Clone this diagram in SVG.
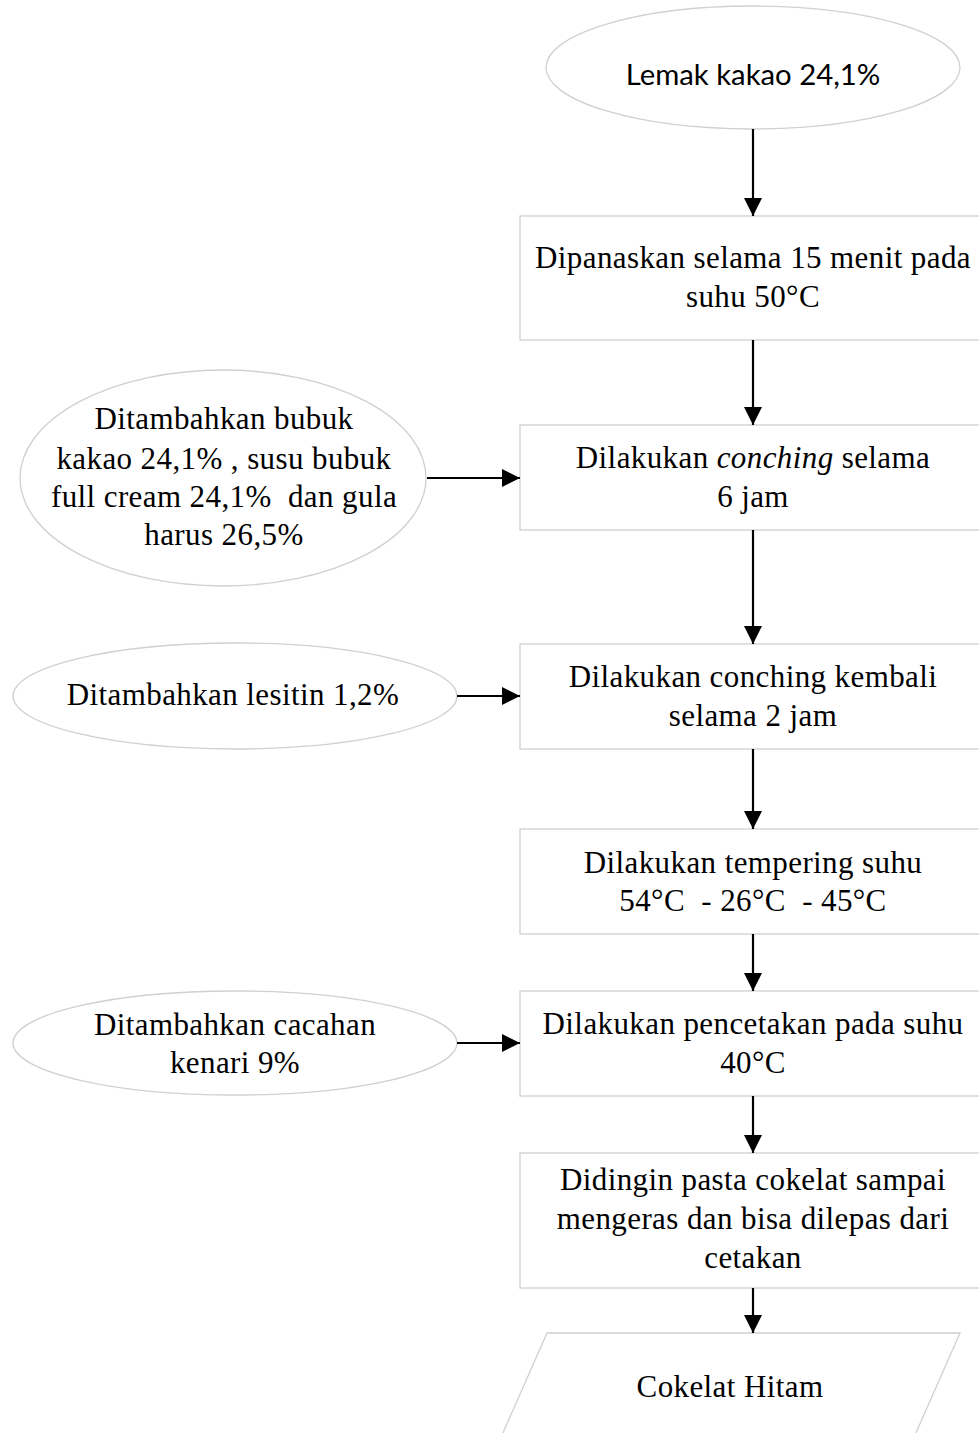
<svg xmlns="http://www.w3.org/2000/svg" width="979" height="1433" viewBox="0 0 979 1433">
<defs>
<marker id="ah" viewBox="0 0 10 10" refX="10" refY="5" markerWidth="18" markerHeight="18" markerUnits="userSpaceOnUse" orient="auto">
<path d="M0,0 L10,5 L0,10 z" fill="#000"/>
</marker>
<style>
.shape{fill:#fff;stroke:#d0d0d0;stroke-width:1.3}
.t{font-family:"Liberation Serif","Times New Roman",serif;font-size:31px;letter-spacing:0.4px;fill:#000;text-anchor:middle}
.s{font-family:Lato,"Open Sans",sans-serif;font-size:29.3px;fill:#000;text-anchor:middle}
.c{stroke:#000;stroke-width:2.2;fill:none}
</style>
</defs>
<rect width="979" height="1433" fill="#fff"/>
<g id="n0">
<ellipse class="shape" cx="753" cy="67.5" rx="207" ry="61.5"/>
<text class="s" x="753" y="85">Lemak kakao 24,1%</text>
</g>
<g id="n1">
<rect class="shape" x="520" y="216" width="466" height="124"/>
<text class="t" x="753" y="268">Dipanaskan selama 15 menit pada</text>
<text class="t" x="753" y="307">suhu 50°C</text>
</g>
<g id="n2">
<ellipse class="shape" cx="223" cy="478" rx="203" ry="108"/>
<text class="t" x="224" y="429">Ditambahkan bubuk</text>
<text class="t" x="224" y="469">kakao 24,1% , susu bubuk</text>
<text class="t" x="224" y="507" xml:space="preserve">full cream 24,1%  dan gula</text>
<text class="t" x="224" y="545">harus 26,5%</text>
</g>
<g id="n3">
<rect class="shape" x="520" y="425" width="466" height="105"/>
<text class="t" x="753" y="468">Dilakukan <tspan font-style="italic">conching</tspan> selama</text>
<text class="t" x="753" y="507">6 jam</text>
</g>
<g id="n4">
<ellipse class="shape" cx="235" cy="696" rx="222" ry="53"/>
<text class="t" x="233" y="705">Ditambahkan lesitin 1,2%</text>
</g>
<g id="n5">
<rect class="shape" x="520" y="644" width="466" height="105"/>
<text class="t" x="753" y="687">Dilakukan conching kembali</text>
<text class="t" x="753" y="726">selama 2 jam</text>
</g>
<g id="n6">
<rect class="shape" x="520" y="829" width="466" height="105"/>
<text class="t" x="753" y="873">Dilakukan tempering suhu</text>
<text class="t" x="753" y="911" xml:space="preserve">54°C  - 26°C  - 45°C</text>
</g>
<g id="n7">
<ellipse class="shape" cx="235" cy="1043" rx="222" ry="52"/>
<text class="t" x="235" y="1035">Ditambahkan cacahan</text>
<text class="t" x="235" y="1073">kenari 9%</text>
</g>
<g id="n8">
<rect class="shape" x="520" y="991" width="466" height="105"/>
<text class="t" x="753" y="1034">Dilakukan pencetakan pada suhu</text>
<text class="t" x="753" y="1073">40°C</text>
</g>
<g id="n9">
<rect class="shape" x="520" y="1153" width="466" height="135"/>
<text class="t" x="753" y="1190">Didingin pasta cokelat sampai</text>
<text class="t" x="753" y="1229">mengeras dan bisa dilepas dari</text>
<text class="t" x="753" y="1268">cetakan</text>
</g>
<g id="n10">
<polygon class="shape" points="547,1333 960,1333 908,1451 495,1451"/>
<text class="t" x="730" y="1397">Cokelat Hitam</text>
</g>
<g id="connectors">
<line class="c" x1="753" y1="129" x2="753" y2="216" marker-end="url(#ah)"/>
<line class="c" x1="753" y1="340" x2="753" y2="425" marker-end="url(#ah)"/>
<line class="c" x1="753" y1="530" x2="753" y2="644" marker-end="url(#ah)"/>
<line class="c" x1="753" y1="749" x2="753" y2="829" marker-end="url(#ah)"/>
<line class="c" x1="753" y1="934" x2="753" y2="991" marker-end="url(#ah)"/>
<line class="c" x1="753" y1="1096" x2="753" y2="1153" marker-end="url(#ah)"/>
<line class="c" x1="753" y1="1288" x2="753" y2="1333" marker-end="url(#ah)"/>
<line class="c" x1="427" y1="478" x2="520" y2="478" marker-end="url(#ah)"/>
<line class="c" x1="457" y1="696" x2="520" y2="696" marker-end="url(#ah)"/>
<line class="c" x1="457" y1="1043" x2="520" y2="1043" marker-end="url(#ah)"/>
</g>
</svg>
